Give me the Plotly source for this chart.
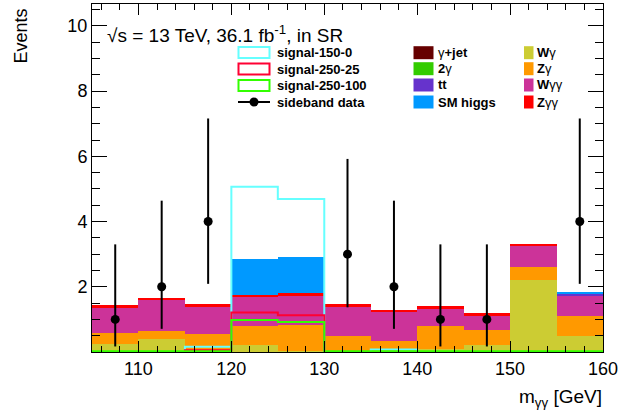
import plotly.graph_objects as go

# ---------------- data ----------------
bin_edges = [105, 110, 115, 120, 125, 130, 135, 140, 145, 150, 155, 160]
bin_centers = [107.5, 112.5, 117.5, 122.5, 127.5, 132.5, 137.5, 142.5, 147.5, 152.5, 157.5]

# stacked backgrounds (bottom -> top)
bkg_gjet   = [0, 0, 0, 0, 0, 0, 0, 0, 0, 0, 0]
bkg_2g     = [0, 0, 0, 0, 0, 0, 0, 0, 0, 0, 0]
bkg_wg     = [0.24, 0.40, 0.03, 0.21, 0.04, 0.03, 0.03, 0.10, 0.23, 2.21, 0.49]
bkg_zg     = [0.35, 0.24, 0.52, 0.59, 0.80, 0.46, 0.32, 0.71, 0.43, 0.41, 0.60]
bkg_wgg    = [0.77, 0.94, 0.84, 0.88, 0.89, 0.90, 0.88, 0.52, 0.47, 0.65, 0.65]
bkg_zgg    = [0.09, 0.08, 0.09, 0.08, 0.09, 0.09, 0.06, 0.09, 0.06, 0.04, 0.00]
bkg_tt     = [0, 0, 0, 0, 0, 0, 0, 0, 0, 0, 0.06]
bkg_higgs  = [0, 0, 0, 1.10, 1.10, 0, 0, 0, 0, 0, 0.02]

sig_150_0   = [0, 0, 0.16, 5.07, 4.69, 0, 0.08, 0, 0, 0, 0]
sig_250_25  = [0, 0, 0.05, 1.21, 1.13, 0, 0, 0, 0, 0, 0]
sig_250_100 = [0.02, 0.02, 0.02, 0.98, 0.92, 0.02, 0.02, 0.02, 0.02, 0.02, 0.02]

data_counts = [1, 2, 4, None, None, 3, 2, 1, 1, None, 4]
data_err_up = [2.30, 2.64, 3.16, None, None, 2.92, 2.64, 2.30, 2.30, None, 3.16]
data_err_dn = [0.83, 1.29, 1.91, None, None, 1.63, 1.29, 0.83, 0.83, None, 1.91]

x_tickvals = [110, 120, 130, 140, 150, 160]
y_tickvals = [2, 4, 6, 8, 10]

# ---------------- styles ----------------
FONT = "Liberation Sans, Arial, Helvetica, sans-serif"
bkg_list = [
    ("γ+jet", bkg_gjet, "#660000"),
    ("2γ", bkg_2g, "#33CC00"),
    ("Wγ", bkg_wg, "#CCCC33"),
    ("Zγ", bkg_zg, "#FF9900"),
    ("Wγγ", bkg_wgg, "#CC3399"),
    ("Zγγ", bkg_zgg, "#FF0000"),
    ("tt", bkg_tt, "#6633CC"),
    ("SM higgs", bkg_higgs, "#0099FF"),
]
sig_list = [
    ("signal-150-0", sig_150_0, "#66FFFF"),
    ("signal-250-25", sig_250_25, "#FF0033"),
    ("signal-250-100", sig_250_100, "#33FF00"),
]

fig = go.Figure()
for name, vals, col in bkg_list:
    fig.add_trace(go.Bar(x=bin_centers, y=vals, width=5, name=name,
                         marker=dict(color=col, line=dict(width=0)),
                         showlegend=False))

def step_xy(vals):
    xs = [bin_edges[0]] + bin_edges[:-1] + [bin_edges[-1], bin_edges[-1]]
    ys = [0] + list(vals) + [vals[-1], 0]
    return xs, ys

for name, vals, col in sig_list:
    xs, ys = step_xy(vals)
    fig.add_trace(go.Scatter(x=xs, y=ys, mode="lines", name=name,
                             line=dict(color=col, width=2, shape="hv"),
                             showlegend=False))

fig.add_trace(go.Scatter(
    x=bin_centers, y=data_counts, mode="markers", name="sideband data",
    marker=dict(color="black", size=9),
    error_y=dict(type="data", symmetric=False, array=data_err_up,
                 arrayminus=data_err_dn, color="black", thickness=2, width=0),
    showlegend=False))

# ---------------- layout ----------------
W, H = 622, 416
L, R, T, B = 92, 19, 4, 64
pw, ph = W - L - R, H - T - B

def px(xp):
    return (xp - L) / pw

def py(yp):
    return (H - B - yp) / ph

shapes = []
annotations = []

# legend column 1 (signals + data)
rows = [52.5, 69.0, 85.5, 102.0]
for (name, vals, col), yc in zip(sig_list, rows[:3]):
    shapes.append(dict(type="rect", xref="paper", yref="paper",
                       x0=px(238.5), x1=px(269.5), y0=py(yc + 5.5), y1=py(yc - 5.5),
                       line=dict(color=col, width=2), fillcolor="rgba(0,0,0,0)"))
    annotations.append(dict(text="<b>%s</b>" % name, xref="paper", yref="paper",
                            x=px(275), y=py(yc), xanchor="left", yanchor="middle",
                            showarrow=False, font=dict(family=FONT, size=13, color="black")))
shapes.append(dict(type="line", xref="paper", yref="paper",
                   x0=px(238), x1=px(270), y0=py(rows[3]), y1=py(rows[3]),
                   line=dict(color="black", width=2)))
shapes.append(dict(type="circle", xref="paper", yref="paper",
                   x0=px(249.5), x1=px(258.5), y0=py(rows[3] + 4.5), y1=py(rows[3] - 4.5),
                   line=dict(color="black", width=0), fillcolor="black"))
annotations.append(dict(text="<b>sideband data</b>", xref="paper", yref="paper",
                        x=px(275), y=py(rows[3]), xanchor="left", yanchor="middle",
                        showarrow=False, font=dict(family=FONT, size=13, color="black")))

col2 = [("γ+jet", "γ<b>+jet</b>", "#660000"), ("2γ", "<b>2</b>γ", "#33CC00"),
        ("tt", "<b>tt</b>", "#6633CC"), ("SM higgs", "<b>SM higgs</b>", "#0099FF")]
col3 = [("Wγ", "<b>W</b>γ", "#CCCC33"), ("Zγ", "<b>Z</b>γ", "#FF9900"),
        ("Wγγ", "<b>W</b>γγ", "#CC3399"), ("Zγγ", "<b>Z</b>γγ", "#FF0000")]
rows2 = [52.7, 68.7, 85.0, 102.0]
for entries, bx0, bx1, tx in [(col2, 413.5, 433.5, 436), (col3, 524, 533.5, 535)]:
    for (nm, label, col), yc in zip(entries, rows2):
        shapes.append(dict(type="rect", xref="paper", yref="paper",
                           x0=px(bx0), x1=px(bx1), y0=py(yc + 6.5), y1=py(yc - 6.5),
                           line=dict(width=0), fillcolor=col))
        annotations.append(dict(text=label, xref="paper", yref="paper",
                                x=px(tx), y=py(yc), xanchor="left", yanchor="middle",
                                showarrow=False, font=dict(family=FONT, size=13, color="black")))

# title text
annotations.append(dict(text="√s = 13 TeV, 36.1 fb<sup>-1</sup>, in SR", xref="paper", yref="paper",
                        x=px(105), y=py(34), xanchor="left", yanchor="middle",
                        showarrow=False, font=dict(family=FONT, size=19, color="black")))
# axis titles
annotations.append(dict(text="m<sub>γγ</sub> [GeV]", xref="paper", yref="paper",
                        x=px(604), y=py(398), xanchor="right", yanchor="middle",
                        showarrow=False, font=dict(family=FONT, size=19, color="black")))
annotations.append(dict(text="Events", xref="paper", yref="paper", textangle=-90,
                        x=px(21), y=py(7), xanchor="center", yanchor="top",
                        showarrow=False, font=dict(family=FONT, size=18, color="black")))

fig.update_layout(
    width=W, height=H, margin=dict(l=L, r=R, t=T, b=B, pad=0),
    paper_bgcolor="white", plot_bgcolor="white",
    barmode="stack", bargap=0, showlegend=False,
    shapes=shapes, annotations=annotations,
    font=dict(family=FONT, size=18, color="black"),
    xaxis=dict(range=[105, 160], tickvals=x_tickvals, ticks="inside", ticklen=11,
               tickwidth=1, tickcolor="black", showline=True, linecolor="black",
               linewidth=1, mirror="ticks", showgrid=False, zeroline=False,
               tickfont=dict(family=FONT, size=18, color="black"),
               minor=dict(ticks="inside", ticklen=6, dtick=2, tick0=110,
                          tickcolor="black", showgrid=False)),
    yaxis=dict(range=[0, 10.67], tickvals=y_tickvals, ticks="inside", ticklen=15,
               tickwidth=1, tickcolor="black", showline=True, linecolor="black",
               linewidth=1, mirror="ticks", showgrid=False, zeroline=False,
               tickfont=dict(family=FONT, size=18, color="black"),
               minor=dict(ticks="inside", ticklen=8, dtick=0.5, tick0=0,
                          tickcolor="black", showgrid=False)),
)

fig.write_html("out.html")
